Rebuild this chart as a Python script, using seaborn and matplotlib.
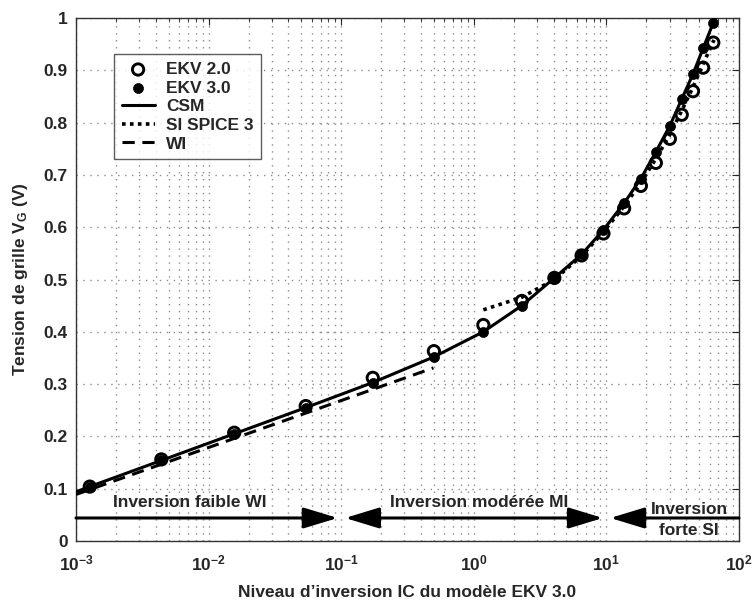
import numpy as np
import pandas as pd
import matplotlib
matplotlib.use('Agg')
import matplotlib.pyplot as plt
import seaborn as sns

# niveaux d'inversion des points simulés
ic_points = [1.27e-3, 4.4e-3, 0.0156, 0.054, 0.173, 0.50, 1.18, 2.3, 4.05, 6.5,
             9.5, 13.6, 18.2, 23.6, 30.1, 37.0, 45.0, 53.6, 64.0]
vg_ekv2 = [0.104, 0.156, 0.207, 0.258, 0.312, 0.363, 0.413, 0.459, 0.503, 0.546,
           0.588, 0.636, 0.679, 0.723, 0.769, 0.815, 0.860, 0.905, 0.953]
vg_ekv3 = [0.104, 0.154, 0.205, 0.255, 0.303, 0.352, 0.400, 0.450, 0.503, 0.548,
           0.595, 0.646, 0.693, 0.744, 0.794, 0.845, 0.893, 0.942, 0.991]

# courbe CSM
ic_csm = [1e-3] + ic_points + [67.0]
vg_csm = [0.094] + vg_ekv3 + [1.0]

# approximation forte inversion (SI SPICE 3)
ic_si = [1.18, 2.3, 4.05, 6.5, 9.5, 13.6, 18.2, 23.6, 30.1, 37.0, 45.0, 53.6, 64.8]
vg_si = [0.442, 0.466, 0.500, 0.545, 0.591, 0.640, 0.685, 0.731, 0.777, 0.823,
         0.868, 0.912, 0.958]

# approximation faible inversion (WI)
ic_wi = [1e-3, 0.496]
vg_wi = [0.089, 0.331]

xtick_vals = [1e-3, 1e-2, 1e-1, 1e0, 1e1, 1e2]
xtick_labels = ['$10^{-3}$', '$10^{-2}$', '$10^{-1}$', '$10^{0}$', '$10^{1}$', '$10^{2}$']
ytick_vals = [0, 0.1, 0.2, 0.3, 0.4, 0.5, 0.6, 0.7, 0.8, 0.9, 1.0]
ytick_labels = ['0', '0.1', '0.2', '0.3', '0.4', '0.5', '0.6', '0.7', '0.8', '0.9', '1']

sns.set_style('white')
plt.rcParams['font.family'] = ['Liberation Sans', 'DejaVu Sans']
plt.rcParams['font.weight'] = 'bold'
plt.rcParams['mathtext.fontset'] = 'custom'
plt.rcParams['mathtext.rm'] = 'Liberation Sans:bold'
plt.rcParams['mathtext.bf'] = 'Liberation Sans:bold'
plt.rcParams['mathtext.it'] = 'Liberation Sans:bold:italic'

df_pts = pd.DataFrame({'IC': ic_points, 'EKV2': vg_ekv2, 'EKV3': vg_ekv3})

fig = plt.figure(figsize=(7.52, 6.04), dpi=100)
ax = fig.add_axes([76 / 752, 63 / 604, 663 / 752, 523 / 604])
ax.set_xscale('log')

sns.scatterplot(data=df_pts, x='IC', y='EKV2', ax=ax, marker='o', s=66,
                facecolor='none', edgecolor='k', linewidth=2.1, zorder=3)
sns.scatterplot(data=df_pts, x='IC', y='EKV3', ax=ax, marker='o', s=52,
                color='k', edgecolor='k', linewidth=0.5, zorder=4)
sns.lineplot(x=ic_csm, y=vg_csm, ax=ax, color='k', lw=2.2, sort=False,
             estimator=None, zorder=5)
sns.lineplot(x=ic_si, y=vg_si, ax=ax, color='k', lw=2.6, sort=False,
             estimator=None, linestyle=(0, (1, 1.2)), zorder=5)
sns.lineplot(x=ic_wi, y=vg_wi, ax=ax, color='k', lw=2.2, sort=False,
             estimator=None, linestyle=(0, (4, 2.5)), zorder=5)

ax.set_xlim(1e-3, 1e2)
ax.set_ylim(0, 1)
ax.set_xticks(xtick_vals)
ax.set_xticklabels(xtick_labels)
ax.set_yticks(ytick_vals)
ax.set_yticklabels(ytick_labels)
ax.tick_params(axis='both', which='both', direction='in', top=True, right=True,
               labelsize=12.5, pad=6)
ax.tick_params(which='major', length=5, width=0.8)
ax.tick_params(which='minor', length=3, width=0.6)
ax.tick_params(axis='x', pad=9)
ax.xaxis.grid(True, which='both', color='#8c8c8c', linestyle=(0, (1, 4)), lw=1.0)
ax.yaxis.grid(True, which='major', color='#8c8c8c', linestyle=(0, (1, 4)), lw=1.0)
for sp in ax.spines.values():
    sp.set_color('#333333')
    sp.set_linewidth(1.0)

ax.set_xlabel("Niveau d\u2019inversion IC du modèle EKV 3.0", fontsize=12.5,
              fontweight='bold', labelpad=8)
ax.set_ylabel('Tension de grille V$_{\\mathrm{G}}$ (V)', fontsize=12.5,
              fontweight='bold', labelpad=10)

# flèches des régions d'inversion
aprops = dict(color='k', lw=2.2, shrinkA=0, shrinkB=0, mutation_scale=20)
ax.annotate('', xy=(0.094, 0.044), xytext=(1e-3, 0.044),
            arrowprops=dict(arrowstyle='-|>,head_length=1.05,head_width=0.32', **aprops))
ax.annotate('', xy=(9.4, 0.044), xytext=(0.107, 0.044),
            arrowprops=dict(arrowstyle='<|-|>,head_length=1.05,head_width=0.32', **aprops))
ax.annotate('', xy=(100, 0.044), xytext=(10.7, 0.044),
            arrowprops=dict(arrowstyle='<|-,head_length=1.05,head_width=0.32', **aprops))
ax.text(0.0072, 0.073, 'Inversion faible WI', ha='center', va='center',
        fontsize=12.5, fontweight='bold')
ax.text(1.09, 0.073, 'Inversion modérée MI', ha='center', va='center',
        fontsize=12.5, fontweight='bold')
ax.text(42, 0.040, 'Inversion\nforte SI', ha='center', va='center',
        fontsize=12.5, fontweight='bold', linespacing=1.5)

handles = [ax.collections[0], ax.collections[1]] + ax.lines[:3]
labels = ['EKV 2.0', 'EKV 3.0', 'CSM', 'SI SPICE 3', 'WI']
leg = ax.legend(handles, labels, loc='upper left', bbox_to_anchor=(0.057, 0.931),
                frameon=True, fancybox=False, edgecolor='#333333', fontsize=12.5,
                handlelength=1.9, labelspacing=0.2, borderpad=0.45,
                handletextpad=0.65, borderaxespad=0)
leg.get_frame().set_linewidth(1.0)
for t in leg.get_texts():
    t.set_fontweight('bold')

fig.savefig('out.png', dpi=100)
